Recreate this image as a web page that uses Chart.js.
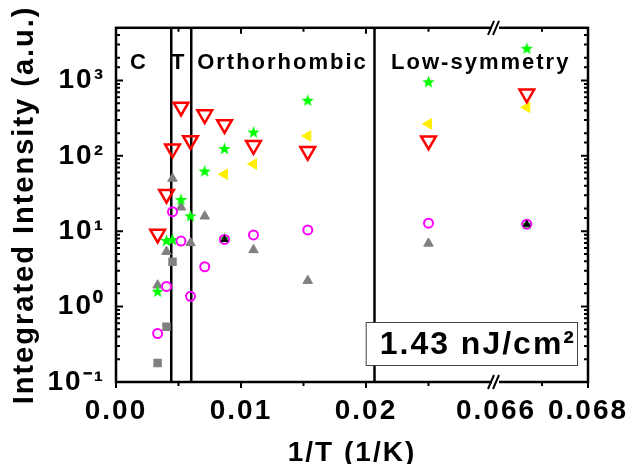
<!DOCTYPE html>
<html>
<head>
<meta charset="utf-8">
<script src="https://cdn.jsdelivr.net/npm/chart.js@4.4.1/dist/chart.umd.min.js"></script>
<style>
  html, body { margin: 0; padding: 0; background: #fff; overflow: hidden; }
  #wrap { position: relative; width: 636px; height: 464px; }
</style>
</head>
<body>
<div id="wrap"><canvas id="plChart"></canvas></div>
<script>
// 1/T of each measured temperature (1/K)
const invT = [0.00333, 0.00404, 0.00452, 0.00520, 0.00596, 0.00710, 0.00868, 0.01100, 0.01534, 0.02500, 0.06667];

// integrated intensity of each band (a.u.), null = band not resolved
const redTri     = [9.2, 31, 124, 445, 160, 353, 261, 138, 115, 159, 665];
const greenStar  = [1.6, 7.55, 7.78, 26.4, 16.0, 63, 125, 207, 548, 962, 2673];
const greenStarB = [null, null, null, null, null, null, 8.1, null, null, null, 12.4];
const yellowTri  = [null, null, null, null, null, null, 57, 78, 184, 266, 440];
const magentaCirc = [0.44, 1.85, 18.2, 7.4, 1.37, 3.38, 7.8, 8.95, 10.4, 12.8, 12.4];
const grayTri    = [1.92, 5.36, 50, 20.8, 7.0, 15.8, null, 5.65, 2.21, 6.9, null];
const graySq     = [0.179, 0.54, 3.93, null, null, null, null, null, null, null, null];
const blackTri   = [null, null, null, null, null, null, 7.8, null, null, null, 12.4];

// phase boundaries (1/T) and the phase names written above them
const phaseBounds = [0.00442, 0.00602, 0.02068];
const phaseNames  = ['C', 'T', 'Orthorhombic', 'Low-symmetry'];
const phaseNameX  = [0.00184, 0.00502, 0.01332, 0.02918];
const phaseNameY  = 1700;

// x axis ticks
const xTickVals = [0, 0.005, 0.01, 0.015, 0.02, 0.025, 0.066, 0.067, 0.068];
const xTickText = ['0.00', '', '0.01', '', '0.02', '', '0.066', '', '0.068'];
// y axis decade labels
const yDecades = [-1, 0, 1, 2, 3];
const yDecadeText = ['10\u207B\u00B9', '10\u2070', '10\u00B9', '10\u00B2', '10\u00B3'];

const fluenceText = '1.43 nJ/cm\u00B2';

// broken x axis: 0 .. BREAK_FROM, then BREAK_TO .. 0.068 on a stretched scale
const BREAK_FROM = 0.0304;
const BREAK_TO = 0.066;
const RIGHT_STRETCH = 3.68;
function toAxis(v) {
    return v <= BREAK_FROM ? v : BREAK_FROM + (v - BREAK_TO) * RIGHT_STRETCH;
}

const FONT = "'Liberation Sans', Arial, sans-serif";
Chart.defaults.font.family = FONT;
Chart.defaults.font.weight = 'bold';
Chart.defaults.color = '#000';

function pts(ys) {
    return invT.map((x, i) => ({ x: toAxis(x), y: ys[i] })).filter(p => p.y !== null);
}

function isDecade(v) {
    const e = Math.log10(v);
    return Math.abs(e - Math.round(e)) < 1e-6;
}

// filled five-point star used as point style
function starImage(size, color) {
    const c = document.createElement('canvas');
    c.width = c.height = size;
    const g = c.getContext('2d');
    const R = size / 2, r = R * 0.42;
    g.beginPath();
    for (let k = 0; k < 10; k++) {
        const rad = k % 2 ? r : R;
        const ang = -Math.PI / 2 + k * Math.PI / 5;
        g.lineTo(R + rad * Math.cos(ang), R + 0.6 + rad * Math.sin(ang));
    }
    g.closePath();
    g.fillStyle = color;
    g.fill();
    return c;
}
const star = starImage(13, '#00ff00');

const boundaryLines = phaseBounds.map(b => ({
    data: [{ x: toAxis(b), y: 0.1 }, { x: toAxis(b), y: 5000 }],
    showLine: true,
    borderColor: '#000',
    borderWidth: 2.5,
    pointRadius: 0
}));

// frame, inward ticks, axis break and text labels
const framePlugin = {
    id: 'frame',
    beforeDraw(chart) {
        chart.ctx.letterSpacing = '2px';
    },
    afterDatasetsDraw(chart) {
        const { ctx, chartArea: a, scales: { x, y } } = chart;
        ctx.save();
        ctx.strokeStyle = '#000';
        ctx.lineWidth = 2.5;
        ctx.strokeRect(a.left, a.top, a.right - a.left, a.bottom - a.top);

        ctx.lineWidth = 2;
        ctx.beginPath();
        x.ticks.forEach((t, i) => {
            if (xTickVals[i] === BREAK_TO) return;
            const px = x.getPixelForValue(t.value);
            const len = xTickText[i] ? 6 : 4;
            ctx.moveTo(px, a.bottom);
            ctx.lineTo(px, a.bottom + len);
            ctx.moveTo(px, a.top);
            ctx.lineTo(px, a.top + len);
        });
        y.ticks.forEach(t => {
            const py = y.getPixelForValue(t.value);
            if (py < a.top + 2 || py > a.bottom - 2) return;
            const len = isDecade(t.value) ? 7 : 4;
            ctx.moveTo(a.left, py);
            ctx.lineTo(a.left + len, py);
            ctx.moveTo(a.right, py);
            ctx.lineTo(a.right - len, py);
        });
        ctx.stroke();

        // axis break marks
        const bx = x.getPixelForValue(toAxis(BREAK_FROM));
        [a.top, a.bottom].forEach(yy => {
            ctx.fillStyle = '#fff';
            ctx.fillRect(bx - 4, yy - 3, 7, 6);
            ctx.beginPath();
            ctx.moveTo(bx - 8, yy + 7);
            ctx.lineTo(bx - 2, yy - 7);
            ctx.moveTo(bx - 3, yy + 7);
            ctx.lineTo(bx + 3, yy - 7);
            ctx.stroke();
        });

        // phase names
        ctx.fillStyle = '#000';
        ctx.font = `bold 22px ${FONT}`;
        ctx.textAlign = 'center';
        ctx.textBaseline = 'middle';
        phaseNames.forEach((name, i) => {
            ctx.fillText(name, x.getPixelForValue(toAxis(phaseNameX[i])), y.getPixelForValue(phaseNameY));
        });

        // fluence box
        ctx.font = `bold 32px ${FONT}`;
        const w = ctx.measureText(fluenceText).width;
        const bx1 = a.right - 11, by1 = a.bottom - 17;
        const bx0 = bx1 - w - 15, by0 = by1 - 43;
        ctx.fillStyle = '#fff';
        ctx.fillRect(bx0, by0, bx1 - bx0, by1 - by0);
        ctx.strokeStyle = '#444';
        ctx.lineWidth = 1;
        ctx.strokeRect(bx0 + 0.5, by0 + 0.5, bx1 - bx0, by1 - by0);
        ctx.fillStyle = '#000';
        ctx.textAlign = 'left';
        ctx.fillText(fluenceText, bx0 + 14, (by0 + by1) / 2 + 2);
        ctx.restore();
    }
};

new Chart(document.getElementById('plChart'), {
    type: 'scatter',
    data: {
        datasets: [
            { label: 'overlap', data: pts(blackTri), pointStyle: 'triangle', pointRadius: 4,
              backgroundColor: '#000', borderColor: '#000', borderWidth: 1 },
            { label: 'band 4', data: pts(magentaCirc), pointStyle: 'circle', pointRadius: 4.5,
              backgroundColor: 'rgba(0,0,0,0)', borderColor: '#ff00ff', borderWidth: 2 },
            { label: 'band 1', data: pts(redTri), pointStyle: 'triangle', pointRotation: 180, pointRadius: 8.5,
              backgroundColor: 'rgba(0,0,0,0)', borderColor: '#ff0000', borderWidth: 2.5 },
            { label: 'band 3', data: pts(yellowTri), pointStyle: 'triangle', pointRotation: 270, pointRadius: 6,
              backgroundColor: '#ffee00', borderColor: '#ffee00', borderWidth: 1 },
            { label: 'band 2', data: pts(greenStar), pointStyle: star },
            { label: 'band 2b', data: pts(greenStarB), pointStyle: star },
            { label: 'band 5', data: pts(grayTri), pointStyle: 'triangle', pointRadius: 5.5,
              backgroundColor: '#808080', borderColor: '#808080', borderWidth: 1 },
            { label: 'band 6', data: pts(graySq), pointStyle: 'rect', pointRadius: 6,
              backgroundColor: '#808080', borderColor: '#808080', borderWidth: 0 },
            ...boundaryLines
        ]
    },
    options: {
        responsive: true,
        maintainAspectRatio: false,
        animation: false,
        events: [],
        layout: { padding: { top: 23, right: 48, left: 0, bottom: 0 } },
        plugins: { legend: { display: false }, tooltip: { enabled: false } },
        scales: {
            x: {
                type: 'linear',
                min: 0,
                max: toAxis(0.068),
                grid: { display: false, drawTicks: false },
                border: { display: false },
                afterBuildTicks: s => { s.ticks = xTickVals.map(v => ({ value: toAxis(v) })); },
                afterFit: s => { s.height = 82; },
                ticks: {
                    autoSkip: false,
                    maxRotation: 0,
                    padding: 12,
                    font: { size: 28 },
                    callback: (v, i) => xTickText[i]
                },
                title: { display: true, text: '1/T (1/K)', font: { size: 28 }, padding: { top: 0, bottom: -6 } }
            },
            y: {
                type: 'logarithmic',
                min: 0.1,
                max: 5000,
                grid: { display: false, drawTicks: false },
                border: { display: false },
                afterFit: s => { s.width = 116; },
                ticks: {
                    autoSkip: false,
                    padding: 11,
                    font: { size: 28 },
                    callback: v => isDecade(v) ? yDecadeText[yDecades.indexOf(Math.round(Math.log10(v)))] : ''
                },
                title: { display: true, text: 'Integrated Intensity (a.u.)', font: { size: 29 }, padding: { top: 8, bottom: 0 } }
            }
        }
    },
    plugins: [framePlugin]
});
</script>
</body>
</html>
